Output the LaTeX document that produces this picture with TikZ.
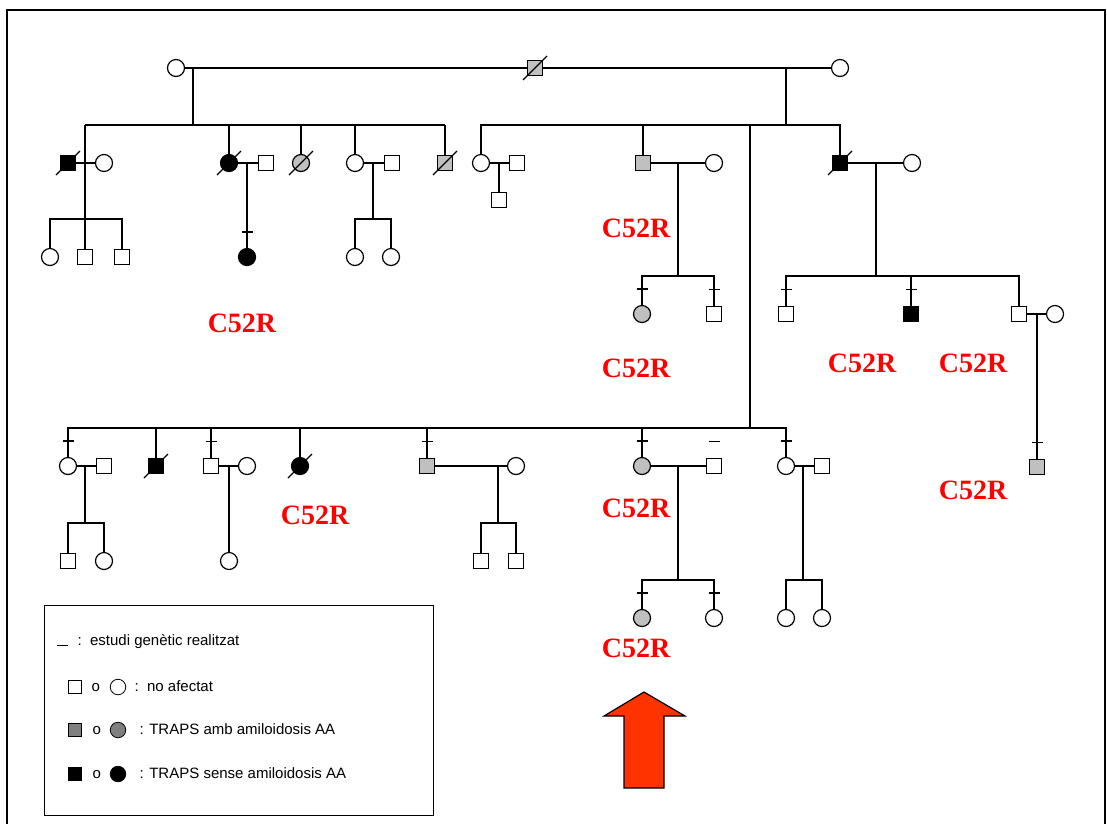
\documentclass[tikz,border=0pt]{standalone}
\usepackage{fontspec}
\setmainfont{Liberation Serif}
\newfontfamily\lsans{Liberation Sans}
\definecolor{pgray}{RGB}{192,192,192}
\definecolor{lgray}{RGB}{128,128,128}
\definecolor{arrowred}{RGB}{255,51,0}
\definecolor{labred}{RGB}{255,0,0}
\newcommand\gtick[1]{\draw ([yshift=16pt]#1.north) +(-5.5,0) -- +(5.5,0);}
\newcommand\dslash[1]{\draw (#1.center) +(-12,12) -- +(12,-12);}
\begin{document}
\begin{tikzpicture}[x=1pt,y=-1pt,line width=1.2pt,
  male/.style={draw,rectangle,minimum size=15.5pt,inner sep=0pt,fill=white},
  female/.style={draw,circle,minimum size=17pt,inner sep=0pt,fill=white},
  aff/.style={fill=pgray},
  blk/.style={fill=black},
  mut/.style={text=labred,font=\fontsize{28}{30}\selectfont\bfseries},
  lgtext/.style={anchor=west,inner sep=0pt,text height=11pt,text depth=3pt,font=\lsans\fontsize{15}{17}\selectfont},
  lmale/.style={draw,rectangle,minimum size=13.5pt,inner sep=0pt,line width=0.8pt},
  lfemale/.style={draw,circle,minimum size=15.5pt,inner sep=0pt,line width=0.8pt}]
\useasboundingbox (0,0) rectangle (1107,823);
% page frame
\draw[line width=1.5pt] (7,830) -- (7,10) -- (1105,10) -- (1105,830);

% ---------- generation I ----------
\node[female] (i1) at (176,68) {};
\node[male,aff] (i2) at (535,68) {};
\node[female] (i3) at (840,68) {};
\dslash{i2}
\draw (i1) -- (i2) -- (i3);
\coordinate (mA) at (193,68);
\coordinate (mB) at (786,68);
\coordinate (sA) at (193,125);
\coordinate (sB) at (786,125);
\draw (mA) -- (sA);
\draw (mB) -- (sB);

% ---------- generation II, left sibship ----------
\node[male,blk] (a1) at (68,163) {};
\node[female] (a1w) at (104,163) {};
\node[female,blk] (a2) at (229,163) {};
\node[male] (a2h) at (266,163) {};
\node[female,aff] (a3) at (301,163) {};
\node[female] (a4) at (355,163) {};
\node[male] (a4h) at (392,163) {};
\node[male,aff] (a5) at (445,163) {};
\dslash{a1}\dslash{a2}\dslash{a3}\dslash{a5}
\coordinate (sAl) at (85,125);
\coordinate (sAr) at (445,125);
\draw (sAl) -- (sAr);
\draw (a2 |- sA) -- (a2);
\draw (a3 |- sA) -- (a3);
\draw (a4 |- sA) -- (a4);
\draw (a5 |- sA) -- (a5);
\draw (a1) -- (a1w);
\draw (a2) -- (a2h);
\draw (a4) -- (a4h);
% children of a1
\coordinate (kA1) at (85,219);
\draw (sAl) -- (kA1);
\node[female] (a11) at (50,257) {};
\node[male] (a12) at (85,257) {};
\node[male] (a13) at (122,257) {};
\draw (a11) -- (a11 |- kA1) -- (a13 |- kA1) -- (a13);
\draw (kA1) -- (a12);
% child of a2
\node[female,blk] (a21) at (247,257) {};
\draw (a21 |- a2) -- (a21);
\gtick{a21}
% children of a4
\coordinate (kA4) at (373,219);
\draw (kA4 |- a4) -- (kA4);
\node[female] (a41) at (355,257) {};
\node[female] (a42) at (391,257) {};
\draw (a41) -- (a41 |- kA4) -- (a42 |- kA4) -- (a42);

% ---------- generation II, right sibship ----------
\node[female] (b1) at (481,163) {};
\node[male] (b1h) at (517,163) {};
\node[male,aff] (b2) at (643,163) {};
\node[female] (b2w) at (714,163) {};
\node[male,blk] (b3) at (840,163) {};
\node[female] (b3w) at (912,163) {};
\dslash{b3}
\coordinate (sBl) at (481,125);
\coordinate (sBr) at (840,125);
\draw (b1) -- (sBl) -- (sBr) -- (b3);
\draw (b2 |- sB) -- (b2);
\draw (b1) -- (b1h);
\draw (b2) -- (b2w);
\draw (b3) -- (b3w);
% child of b1
\node[male] (b11) at (499,200) {};
\draw (b11 |- b1) -- (b11);
% children of b2
\coordinate (kB2) at (678,276);
\draw (kB2 |- b2) -- (kB2);
\node[female,aff] (b21) at (642,314) {};
\node[male] (b22) at (714,314) {};
\draw (b21) -- (b21 |- kB2) -- (b22 |- kB2) -- (b22);
\gtick{b21}\gtick{b22}
% children of b3
\coordinate (kB3) at (876,276);
\draw (kB3 |- b3) -- (kB3);
\node[male] (b31) at (786,314) {};
\node[male,blk] (b32) at (911,314) {};
\node[male] (b33) at (1019,314) {};
\node[female] (b33w) at (1055,314) {};
\draw (b31) -- (b31 |- kB3) -- (b33 |- kB3) -- (b33);
\draw (b32 |- kB3) -- (b32);
\draw (b33) -- (b33w);
\gtick{b31}\gtick{b32}
\node[male,aff] (b331) at (1037,467) {};
\draw (b331 |- b33) -- (b331);
\gtick{b331}

% ---------- generation III ----------
\coordinate (sC) at (750,428);
\draw (750,125) -- (sC);
\node[female] (c1) at (68,466) {};
\node[male] (c1h) at (104,466) {};
\node[male,blk] (c2) at (156,466) {};
\node[male] (c3) at (211,466) {};
\node[female] (c3w) at (247,466) {};
\node[female,blk] (c4) at (300,466) {};
\node[male,aff] (c5) at (427,466) {};
\node[female] (c5w) at (516,466) {};
\node[female,aff] (c6) at (642,466) {};
\node[male] (c6h) at (714,466) {};
\node[female] (c7) at (786,466) {};
\node[male] (c7h) at (822,466) {};
\dslash{c2}\dslash{c4}
\draw (c1) -- (c1 |- sC) -- (c7 |- sC) -- (c7);
\foreach \n in {c2,c3,c4,c5,c6} {\draw (\n |- sC) -- (\n);}
\gtick{c1}\gtick{c3}\gtick{c5}\gtick{c6}\gtick{c6h}\gtick{c7}
\draw (c1) -- (c1h);
\draw (c3) -- (c3w);
\draw (c5) -- (c5w);
\draw (c6) -- (c6h);
\draw (c7) -- (c7h);
% children of c1
\coordinate (kC1) at (85,523);
\draw (kC1 |- c1) -- (kC1);
\node[male] (c11) at (68,561) {};
\node[female] (c12) at (104,561) {};
\draw (c11) -- (c11 |- kC1) -- (c12 |- kC1) -- (c12);
% child of c3
\node[female] (c31) at (229,561) {};
\draw (c31 |- c3) -- (c31);
% children of c5
\coordinate (kC5) at (498,523);
\draw (kC5 |- c5) -- (kC5);
\node[male] (c51) at (481,561) {};
\node[male] (c52) at (516,561) {};
\draw (c51) -- (c51 |- kC5) -- (c52 |- kC5) -- (c52);
% children of c6
\coordinate (kC6) at (678,580);
\draw (kC6 |- c6) -- (kC6);
\node[female,aff] (c61) at (642,618) {};
\node[female] (c62) at (714,618) {};
\draw (c61) -- (c61 |- kC6) -- (c62 |- kC6) -- (c62);
\gtick{c61}\gtick{c62}
% children of c7
\coordinate (kC7) at (803,580);
\draw (kC7 |- c7) -- (kC7);
\node[female] (c71) at (786,618) {};
\node[female] (c72) at (822,618) {};
\draw (c71) -- (c71 |- kC7) -- (c72 |- kC7) -- (c72);

% ---------- mutation labels ----------
\node[mut] (l1) at (636,228) {C52R};
\node[mut] (l2) at (242,323) {C52R};
\node[mut] (l3) at (636,368) {C52R};
\node[mut] (l4) at (862,363) {C52R};
\node[mut] (l5) at (973,363) {C52R};
\node[mut] (l6) at (315,515) {C52R};
\node[mut] (l7) at (636,508) {C52R};
\node[mut] (l8) at (973,490) {C52R};
\node[mut] (l9) at (636,648) {C52R};

% ---------- proband arrow ----------
\draw[fill=arrowred,line width=1.2pt] (644,692) -- (685,716) -- (664,716) -- (664,788)
  -- (624,788) -- (624,716) -- (604,716) -- cycle;

% ---------- legend ----------
\node[draw,line width=0.8pt,minimum width=389pt,minimum height=210pt,inner sep=0pt] (lg) at (238.5,710) {};
\coordinate (d1) at (57,645);
\coordinate (d2) at (68,645);
\draw[line width=0.8pt] (d1) -- (d2);
\node[lgtext] (t1) at (77,641) {:\ \ estudi genètic realitzat};
\node[lmale] (q1) at (75,687) {};
\node[lgtext] (o1) at (91,687) {o};
\node[lfemale] (r1) at (118,687) {};
\node[lgtext] (t2) at (134,687) {:\ \ no afectat};
\node[lmale,fill=lgray] (q2) at (75,730) {};
\node[lgtext] (o2) at (92,730) {o};
\node[lfemale,fill=lgray] (r2) at (118,730) {};
\node[lgtext] (t3) at (139,730) {: TRAPS amb amiloidosis AA};
\node[lmale,fill=black] (q3) at (75,774) {};
\node[lgtext] (o3) at (92,774) {o};
\node[lfemale,fill=black] (r3) at (118,774) {};
\node[lgtext] (t4) at (139,774) {: TRAPS sense amiloidosis AA};
\end{tikzpicture}
\end{document}
